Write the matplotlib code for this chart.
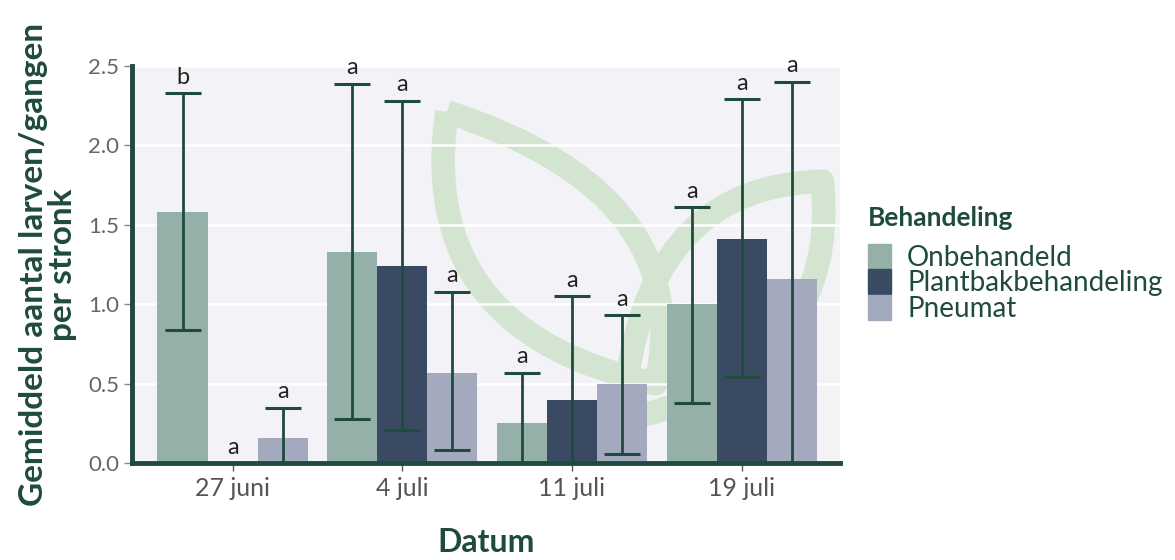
import numpy as np
import matplotlib.pyplot as plt
from matplotlib.patches import Patch, PathPatch
from matplotlib.path import Path

plt.rcParams['font.family'] = ['Lato', 'DejaVu Sans']

dates = ['27 juni', '4 juli', '11 juli', '19 juli']
groups = ['Onbehandeld', 'Plantbakbehandeling', 'Pneumat']
means = {
    'Onbehandeld':         [1.58, 1.33, 0.25, 1.00],
    'Plantbakbehandeling': [0.00, 1.24, 0.40, 1.41],
    'Pneumat':             [0.16, 0.57, 0.50, 1.16],
}
err_hi = {
    'Onbehandeld':         [2.33, 2.39, 0.57, 1.61],
    'Plantbakbehandeling': [0.00, 2.28, 1.05, 2.29],
    'Pneumat':             [0.35, 1.08, 0.93, 2.40],
}
err_lo = {
    'Onbehandeld':         [0.84, 0.28, -0.10, 0.38],
    'Plantbakbehandeling': [0.00, 0.21, -0.20, 0.54],
    'Pneumat':             [-0.05, 0.08, 0.06, -0.10],
}
letters = {
    'Onbehandeld':         ['b', 'a', 'a', 'a'],
    'Plantbakbehandeling': ['a', 'a', 'a', 'a'],
    'Pneumat':             ['a', 'a', 'a', 'a'],
}
colors = {'Onbehandeld': '#95b0a8', 'Plantbakbehandeling': '#3b4a63', 'Pneumat': '#a4aabd'}
dark = '#1f4a3e'

fig = plt.figure(figsize=(11.75, 5.6), dpi=100)
ax = fig.add_axes([0.112, 0.173, 0.603, 0.709])
ax.set_facecolor('#f3f3f7')

# watermark leaf logo (decoration only)
wm = '#d3e5d1'
leaf1 = Path([(0.445, 0.885), (0.40, 0.33), (0.74, 0.20), (0.80, 0.68), (0.445, 0.885)],
             [Path.MOVETO, Path.CURVE3, Path.CURVE3, Path.CURVE3, Path.CURVE3])
ax.add_patch(PathPatch(leaf1, transform=ax.transAxes, fill=False, lw=17, ec=wm, zorder=0.5,
                       joinstyle='round'))
leaf2 = Path([(0.70, 0.22), (0.74, 0.70), (0.975, 0.71), (1.00, 0.25), (0.72, 0.12)],
             [Path.MOVETO, Path.CURVE3, Path.CURVE3, Path.CURVE3, Path.CURVE3])
ax.add_patch(PathPatch(leaf2, transform=ax.transAxes, fill=False, lw=17, ec=wm, zorder=0.5,
                       joinstyle='round'))

x = np.arange(len(dates))
w = 0.295
for i, g in enumerate(groups):
    xs = x + (i - 1) * w
    m = np.array(means[g])
    hi = np.array(err_hi[g])
    lo = np.array(err_lo[g])
    ax.bar(xs, m, width=w, color=colors[g], label=g, zorder=2)
    for k in range(len(dates)):
        if hi[k] > 0:
            ax.errorbar(xs[k], m[k], yerr=[[m[k] - lo[k]], [hi[k] - m[k]]], fmt='none',
                        ecolor=dark, elinewidth=2, capsize=13, capthick=2.2, zorder=3)
        ax.text(xs[k], max(hi[k], 0) + 0.035, letters[g][k], ha='center', va='bottom',
                fontsize=17, color='#222222', zorder=4)

ax.set_xlim(-0.595, 3.58)
ax.set_ylim(0, 2.5)
ax.set_yticks([0, 0.5, 1.0, 1.5, 2.0, 2.5])
ax.set_yticklabels(['0.0', '0.5', '1.0', '1.5', '2.0', '2.5'])
ax.set_xticks(x)
ax.set_xticklabels(dates)
ax.grid(axis='y', color='white', lw=1.8, zorder=0)
ax.set_axisbelow(True)
for s in ['top', 'right']:
    ax.spines[s].set_visible(False)
for s in ['left', 'bottom']:
    ax.spines[s].set_color(dark)
    ax.spines[s].set_linewidth(3.5)
ax.tick_params(axis='y', colors='#666666', labelsize=16, length=6, width=1, color='#888888', pad=3)
ax.tick_params(axis='x', colors='#555555', labelsize=18, length=6, width=1, color='#555555', pad=4)

ax.set_xlabel('Datum', fontsize=23, fontweight='bold', color=dark, labelpad=20)
ax.set_ylabel('Gemiddeld aantal larven/gangen\nper stronk', fontsize=24, fontweight='bold',
              color=dark, labelpad=8, linespacing=1.0)

fig.text(0.739, 0.611, 'Behandeling', fontsize=19, fontweight='bold', color=dark, va='center', ha='left')
handles = [Patch(color=colors[g]) for g in groups]
leg = fig.legend(handles, groups, loc='upper left', bbox_to_anchor=(0.739, 0.565),
                 frameon=False, fontsize=20, handlelength=0.8, handleheight=1.0,
                 handletextpad=0.6, labelspacing=-0.05, borderaxespad=0, borderpad=0)
for t in leg.get_texts():
    t.set_color(dark)

fig.savefig('out.png', dpi=100)
